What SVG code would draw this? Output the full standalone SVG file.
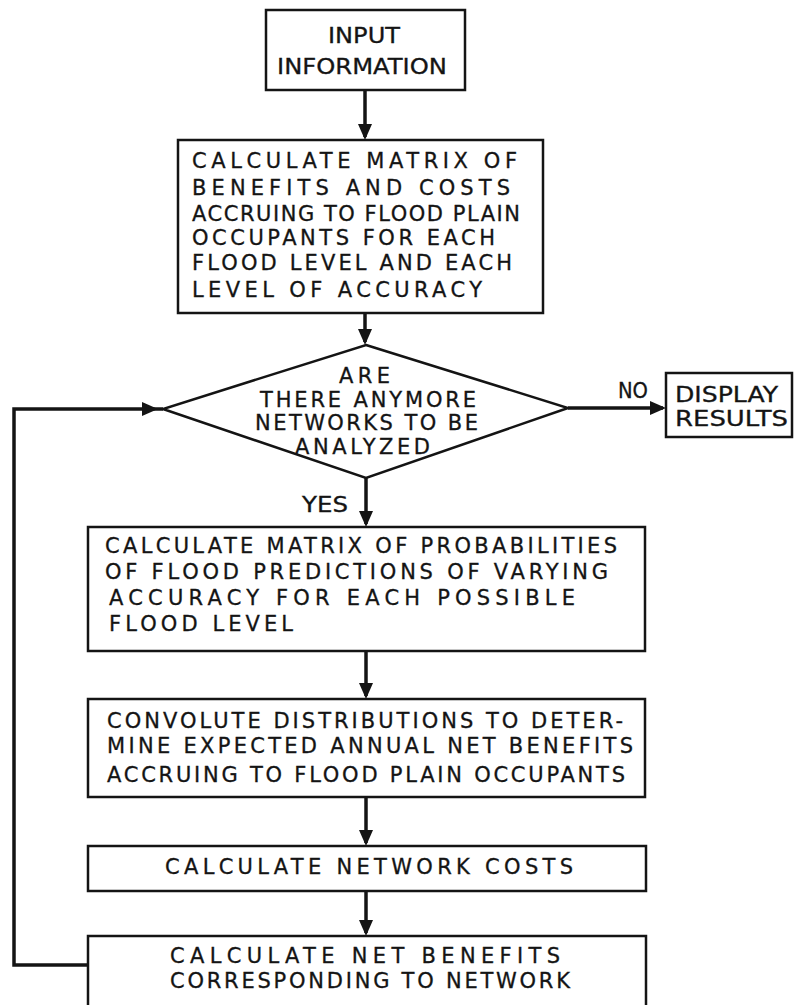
<svg xmlns="http://www.w3.org/2000/svg" width="794" height="1005" viewBox="0 0 794 1005">
<style>
.box{fill:none;stroke:#141414;stroke-width:2.5}
.con{fill:none;stroke:#141414;stroke-width:3.5}
text{font-family:"DejaVu Sans","Liberation Sans",Arial,sans-serif;font-size:21px;fill:#141414;stroke:#141414;stroke-width:0.3}
</style>
<defs>
<marker id="ah" viewBox="0 0 16 14" refX="13" refY="7" markerWidth="16" markerHeight="14" markerUnits="userSpaceOnUse" orient="auto">
<path d="M0,0 L16,7 L0,14 z" fill="#141414"/>
</marker>
</defs>
<rect width="794" height="1005" fill="#ffffff"/>
<g id="connectors">
<path class="con" d="M365,90 V137" marker-end="url(#ah)"/>
<path class="con" d="M365,313 V342" marker-end="url(#ah)"/>
<path class="con" d="M366,478 V524" marker-end="url(#ah)"/>
<path class="con" d="M568,408 H663" marker-end="url(#ah)"/>
<path class="con" d="M366,651 V696" marker-end="url(#ah)"/>
<path class="con" d="M366,797 V843" marker-end="url(#ah)"/>
<path class="con" d="M366,891 V933" marker-end="url(#ah)"/>
<path class="con" d="M88,965 H14 V409 H155" marker-end="url(#ah)"/>
<path class="con" d="M155,409 H163"/>
<text x="618" y="398" textLength="30" lengthAdjust="spacingAndGlyphs">NO</text>
<text x="302" y="512" textLength="46" lengthAdjust="spacingAndGlyphs">YES</text>
</g>
<g id="input">
<rect class="box" x="266" y="10" width="199" height="80"/>
<text x="328" y="43" textLength="72" lengthAdjust="spacingAndGlyphs">INPUT</text>
<text x="277" y="74" textLength="170" lengthAdjust="spacingAndGlyphs">INFORMATION</text>
</g>
<g id="calc-matrix-benefits">
<rect class="box" x="178" y="140" width="365" height="173"/>
<text x="192" y="168" textLength="325" lengthAdjust="spacing">CALCULATE MATRIX OF</text>
<text x="192" y="195" textLength="318" lengthAdjust="spacing">BENEFITS AND COSTS</text>
<text x="192" y="221" textLength="328" lengthAdjust="spacing">ACCRUING TO FLOOD PLAIN</text>
<text x="192" y="245" textLength="303" lengthAdjust="spacing">OCCUPANTS FOR EACH</text>
<text x="192" y="270" textLength="320" lengthAdjust="spacing">FLOOD LEVEL AND EACH</text>
<text x="192" y="297" textLength="290" lengthAdjust="spacing">LEVEL OF ACCURACY</text>
</g>
<g id="decision">
<polygon class="box" points="366,345 568,408 366,478 163,409"/>
<text x="339" y="383" textLength="51" lengthAdjust="spacing">ARE</text>
<text x="260" y="407" textLength="216" lengthAdjust="spacing">THERE ANYMORE</text>
<text x="255" y="430" textLength="223" lengthAdjust="spacing">NETWORKS TO BE</text>
<text x="295" y="454" textLength="135" lengthAdjust="spacing">ANALYZED</text>
</g>
<g id="display-results">
<rect class="box" x="666" y="373" width="126" height="64"/>
<text x="675" y="402" textLength="103" lengthAdjust="spacingAndGlyphs">DISPLAY</text>
<text x="675" y="426" textLength="113" lengthAdjust="spacingAndGlyphs">RESULTS</text>
</g>
<g id="calc-matrix-probabilities">
<rect class="box" x="88" y="527" width="557" height="124"/>
<text x="105" y="553" textLength="512" lengthAdjust="spacing">CALCULATE MATRIX OF PROBABILITIES</text>
<text x="105" y="579" textLength="503" lengthAdjust="spacing">OF FLOOD PREDICTIONS OF VARYING</text>
<text x="109" y="605" textLength="466" lengthAdjust="spacing">ACCURACY FOR EACH POSSIBLE</text>
<text x="109" y="631" textLength="184" lengthAdjust="spacing">FLOOD LEVEL</text>
</g>
<g id="convolute">
<rect class="box" x="88" y="699" width="557" height="98"/>
<text x="107" y="728" textLength="516" lengthAdjust="spacing">CONVOLUTE DISTRIBUTIONS TO DETER-</text>
<text x="107" y="753" textLength="526" lengthAdjust="spacing">MINE EXPECTED ANNUAL NET BENEFITS</text>
<text x="107" y="782" textLength="518" lengthAdjust="spacing">ACCRUING TO FLOOD PLAIN OCCUPANTS</text>
</g>
<g id="network-costs">
<rect class="box" x="88" y="846" width="558" height="45"/>
<text x="165" y="874" textLength="408" lengthAdjust="spacing">CALCULATE NETWORK COSTS</text>
</g>
<g id="net-benefits">
<rect class="box" x="88" y="936" width="558" height="75"/>
<text x="170" y="963" textLength="390" lengthAdjust="spacing">CALCULATE NET BENEFITS</text>
<text x="170" y="988" textLength="400" lengthAdjust="spacing">CORRESPONDING TO NETWORK</text>
</g>
</svg>
